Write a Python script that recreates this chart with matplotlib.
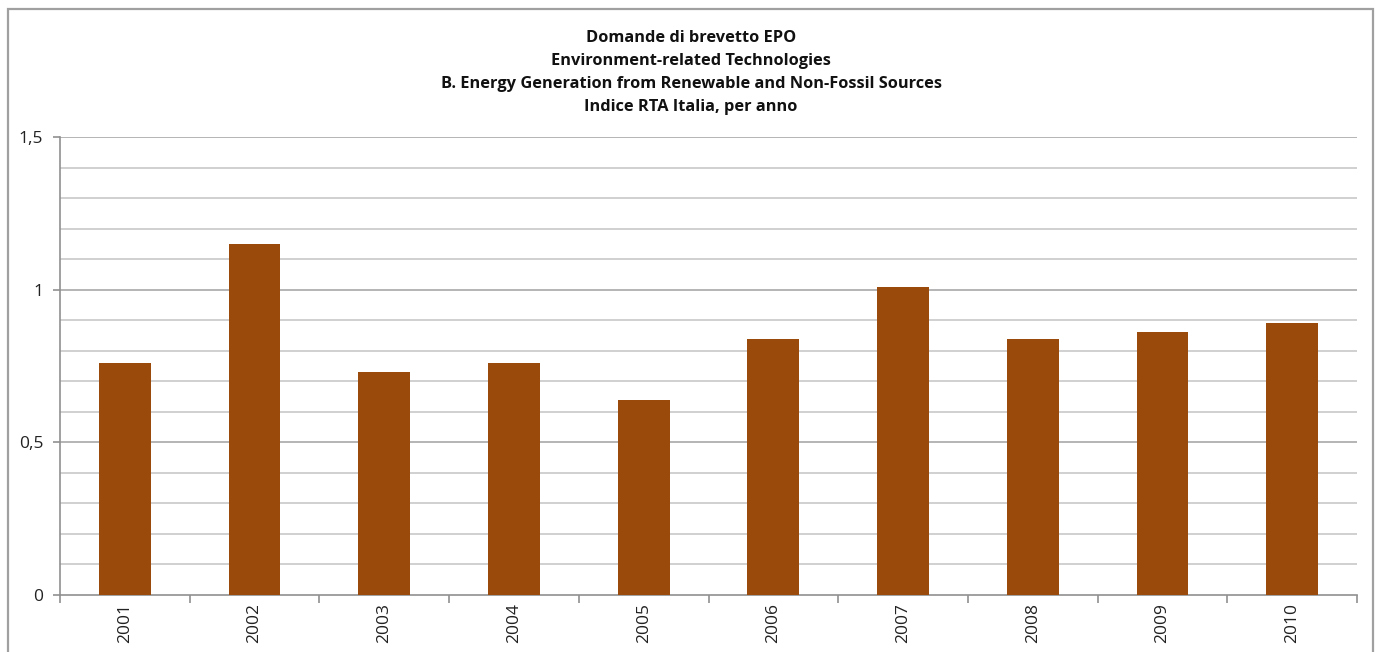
import matplotlib
matplotlib.use("Agg")
import matplotlib.pyplot as plt
from matplotlib.patches import Rectangle
from matplotlib.ticker import FixedLocator
import numpy as np

years = ["2001", "2002", "2003", "2004", "2005", "2006", "2007", "2008", "2009", "2010"]
rta = [0.76, 1.15, 0.73, 0.76, 0.64, 0.84, 1.01, 0.84, 0.86, 0.89]
title_lines = ["Domande di brevetto EPO",
               "Environment-related Technologies",
               "B. Energy Generation from Renewable and Non-Fossil Sources",
               "Indice RTA Italia, per anno"]

plt.rcParams['font.family'] = ['Open Sans', 'DejaVu Sans']

W, H = 1379, 652
fig = plt.figure(figsize=(W / 100, H / 100), dpi=100)
fig.patch.set_facecolor("white")

# outer chart frame
fig.add_artist(Rectangle((8 / W, -0.05), (1373 - 8) / W, 1.05 - 9 / H,
                         transform=fig.transFigure, fill=False,
                         edgecolor="#a0a0a0", linewidth=1.6))

left, right, top, bottom = 60, 1357, 137, 595
ax = fig.add_axes([left / W, 1 - bottom / H, (right - left) / W, (bottom - top) / H])

x = np.arange(len(years))
ax.bar(x, rta, width=0.4, color="#9A4A0A", zorder=3)

ax.set_xlim(-0.5, len(years) - 0.5)
ax.set_ylim(0, 1.5)

# gridlines
for v in np.arange(0.1, 1.51, 0.1):
    major = abs(v * 2 - round(v * 2)) < 1e-6
    ax.axhline(v, color="#a8a8a8" if major else "#c8c8c8", linewidth=1.2, zorder=1)

ax.set_yticks([0, 0.5, 1.0, 1.5])
ax.set_yticklabels(["0", "0,5", "1", "1,5"], fontsize=12.5, color="#222222")
ax.tick_params(axis="y", length=5, color="#909090", width=1.2, pad=7)

ax.set_xticks(x)
ax.set_xticklabels(years, rotation=90, fontsize=12.5, color="#222222")
ax.tick_params(axis="x", length=0, pad=6)
ax.xaxis.set_minor_locator(FixedLocator(np.arange(-0.5, len(years), 1.0)))
ax.tick_params(axis="x", which="minor", length=6, color="#909090", width=1.2)

for s in ["top", "right"]:
    ax.spines[s].set_visible(False)
for s in ["left", "bottom"]:
    ax.spines[s].set_color("#909090")
    ax.spines[s].set_linewidth(1.2)

ys = [38, 61, 84, 107]
for t, yy in zip(title_lines, ys):
    fig.text(691 / W, 1 - yy / H, t, ha="center", va="center",
             fontsize=11.8, fontweight="bold", color="#111111")

fig.savefig("out.png", dpi=100, facecolor="white")
